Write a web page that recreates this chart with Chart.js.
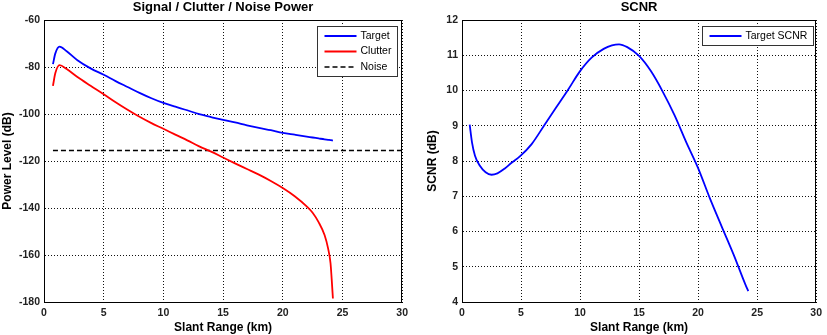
<!DOCTYPE html>
<html>
<head>
<meta charset="utf-8">
<script src="https://cdn.jsdelivr.net/npm/chart.js@4.4.0/dist/chart.umd.min.js"></script>
<style>
  body { margin: 0; background: #fff; }
  canvas { position: absolute; top: 0; }
  #powerChart { left: 0; }
  #scnrChart { left: 413px; }
</style>
</head>
<body>
<canvas id="powerChart" width="413" height="335"></canvas>
<canvas id="scnrChart" width="414" height="335"></canvas>
<script>
// slant range samples (km) for the power curves
const rangeKm = [0.75, 0.95, 1.3, 1.9, 2.8, 3.9, 5, 6, 7, 8, 9, 10, 11, 12, 13, 14, 15,
  16, 17, 18, 19, 20, 21, 22, 22.5, 23, 23.5, 23.8, 24, 24.1, 24.2];
const targetPower = [-78.8, -74.2, -71.3, -73.3, -77.1, -80.6, -83.3, -86.0, -88.5, -91.0,
  -93.3, -95.3, -96.9, -98.4, -100.1, -101.3, -102.5, -103.6, -104.8, -105.9, -106.9,
  -108.0, -108.8, -109.6, -110.0, -110.4, -110.8, -111.0, -111.1, -111.2, -111.3];
const clutterPower = [-88.0, -82.6, -79.2, -80.9, -84.3, -88.0, -91.6, -95.0, -98.2, -101.2,
  -103.9, -106.3, -108.8, -111.2, -113.8, -116.0, -118.5, -121.0, -123.4, -125.8, -128.5,
  -131.5, -135.0, -139.3, -142.0, -146.0, -151.5, -157.3, -163.5, -170.5, -178.5];
const noiseRange = [0.75, 30];
const noisePower = [-115.5, -115.5];

// SCNR curve
const scnrRange = [0.65, 0.85, 1.1, 1.5, 2.0, 2.5, 3.0, 3.6, 4.2, 4.9, 5.9, 7, 8, 9, 10, 11,
  12, 12.7, 13.3, 14, 15, 16, 17, 18, 19, 20, 21, 22, 23, 24, 24.25];
const scnrValues = [9.03, 8.52, 8.15, 7.87, 7.68, 7.61, 7.65, 7.78, 7.95, 8.13, 8.48, 9.03,
  9.53, 10.03, 10.55, 10.94, 11.18, 11.28, 11.31, 11.23, 10.98, 10.55, 9.97, 9.3, 8.53, 7.8,
  6.94, 6.14, 5.35, 4.5, 4.31];

const FONT = '"Liberation Sans", Arial, sans-serif';

const toPoints = (xs, ys) => xs.map((x, i) => ({ x: x, y: ys[i] }));

// black box around the plot area
const axesFrame = {
  id: 'axesFrame',
  afterDraw(chart) {
    const { ctx, chartArea: a } = chart;
    ctx.save();
    ctx.strokeStyle = '#000';
    ctx.lineWidth = 1;
    ctx.strokeRect(Math.round(a.left) + 0.5, Math.round(a.top) + 0.5,
      Math.round(a.right - a.left) - 1, Math.round(a.bottom - a.top));
    ctx.restore();
  }
};

// matlab style legend box in the upper right corner
const boxLegend = {
  id: 'boxLegend',
  afterDraw(chart, args, opts) {
    const { ctx, chartArea: a } = chart;
    const sets = chart.data.datasets;
    ctx.save();
    ctx.font = '10.5px ' + FONT;
    const textW = Math.max(...sets.map(d => ctx.measureText(d.label).width));
    const w = Math.round(7 + 32 + 4 + textW + 6);
    const h = Math.round(sets.length * 15.5 + 3.5);
    const x = Math.round(a.right - opts.right - w) + 0.5;
    const y = Math.round(a.top + 6) + 0.5;
    ctx.fillStyle = '#fff';
    ctx.fillRect(x, y, w, h);
    ctx.strokeStyle = '#333';
    ctx.lineWidth = 1;
    ctx.strokeRect(x, y, w, h);
    sets.forEach((d, i) => {
      const cy = y + 9.5 + i * 15.5;
      ctx.beginPath();
      ctx.setLineDash(d.borderDash || []);
      ctx.strokeStyle = d.borderColor;
      ctx.lineWidth = d.borderWidth;
      ctx.moveTo(x + 7, cy);
      ctx.lineTo(x + 39, cy);
      ctx.stroke();
      ctx.setLineDash([]);
      ctx.fillStyle = '#000';
      ctx.textBaseline = 'middle';
      ctx.fillText(d.label, x + 43, cy);
    });
    ctx.restore();
  }
};

function makeOptions(title, yTitle, yMin, yMax, yStep, yWidth, yTitlePad, rightPad, legendRight) {
  return {
    responsive: false,
    animation: false,
    devicePixelRatio: 1,
    layout: { padding: { left: 0, right: rightPad, top: 0, bottom: 0 } },
    elements: { point: { radius: 0 } },
    plugins: {
      legend: { display: false },
      tooltip: { enabled: false },
      title: {
        display: true,
        text: title,
        fullSize: false,
        color: '#000',
        font: { family: FONT, size: 13, weight: 'bold' },
        padding: { top: 0, bottom: 4.4 }
      },
      boxLegend: { right: legendRight }
    },
    scales: {
      x: {
        type: 'linear',
        min: 0,
        max: 30,
        ticks: { stepSize: 5, padding: 5, color: '#222', font: { family: FONT, size: 10.5, weight: 'bold' } },
        grid: { color: '#111', drawTicks: false, lineWidth: 1 },
        border: { display: true, color: '#000', dash: [1, 2] },
        title: {
          display: true,
          text: 'Slant Range (km)',
          color: '#000',
          font: { family: FONT, size: 12, weight: 'bold' },
          padding: { top: 2, bottom: 0 }
        },
        afterFit: s => { s.height = 33; }
      },
      y: {
        min: yMin,
        max: yMax,
        ticks: { stepSize: yStep, padding: 4, color: '#222', font: { family: FONT, size: 10.5, weight: 'bold' } },
        grid: { color: '#111', drawTicks: false, lineWidth: 1 },
        border: { display: true, color: '#000', dash: [1, 2] },
        title: {
          display: true,
          text: yTitle,
          color: '#000',
          font: { family: FONT, size: 12, weight: 'bold' },
          padding: { top: yTitlePad, bottom: 0 }
        },
        afterFit: s => { s.width = yWidth; }
      }
    }
  };
}

new Chart(document.getElementById('powerChart'), {
  type: 'line',
  data: {
    datasets: [
      {
        label: 'Target',
        data: toPoints(rangeKm, targetPower),
        borderColor: '#0000ff',
        borderWidth: 1.8,
        cubicInterpolationMode: 'monotone'
      },
      {
        label: 'Clutter',
        data: toPoints(rangeKm, clutterPower),
        borderColor: '#ff0000',
        borderWidth: 1.8,
        cubicInterpolationMode: 'monotone'
      },
      {
        label: 'Noise',
        data: toPoints(noiseRange, noisePower),
        borderColor: '#000',
        borderWidth: 1.6,
        borderDash: [5, 3]
      }
    ]
  },
  options: makeOptions('Signal / Clutter / Noise Power', 'Power Level (dB)', -180, -60, 20, 44, 0, 10, 5),
  plugins: [axesFrame, boxLegend]
});

new Chart(document.getElementById('scnrChart'), {
  type: 'line',
  data: {
    datasets: [
      {
        label: 'Target SCNR',
        data: toPoints(scnrRange, scnrValues),
        borderColor: '#0000ff',
        borderWidth: 1.8,
        cubicInterpolationMode: 'monotone'
      }
    ]
  },
  options: makeOptions('SCNR', 'SCNR (dB)', 4, 12, 1, 49, 12, 8, 3),
  plugins: [axesFrame, boxLegend]
});
</script>
</body>
</html>
